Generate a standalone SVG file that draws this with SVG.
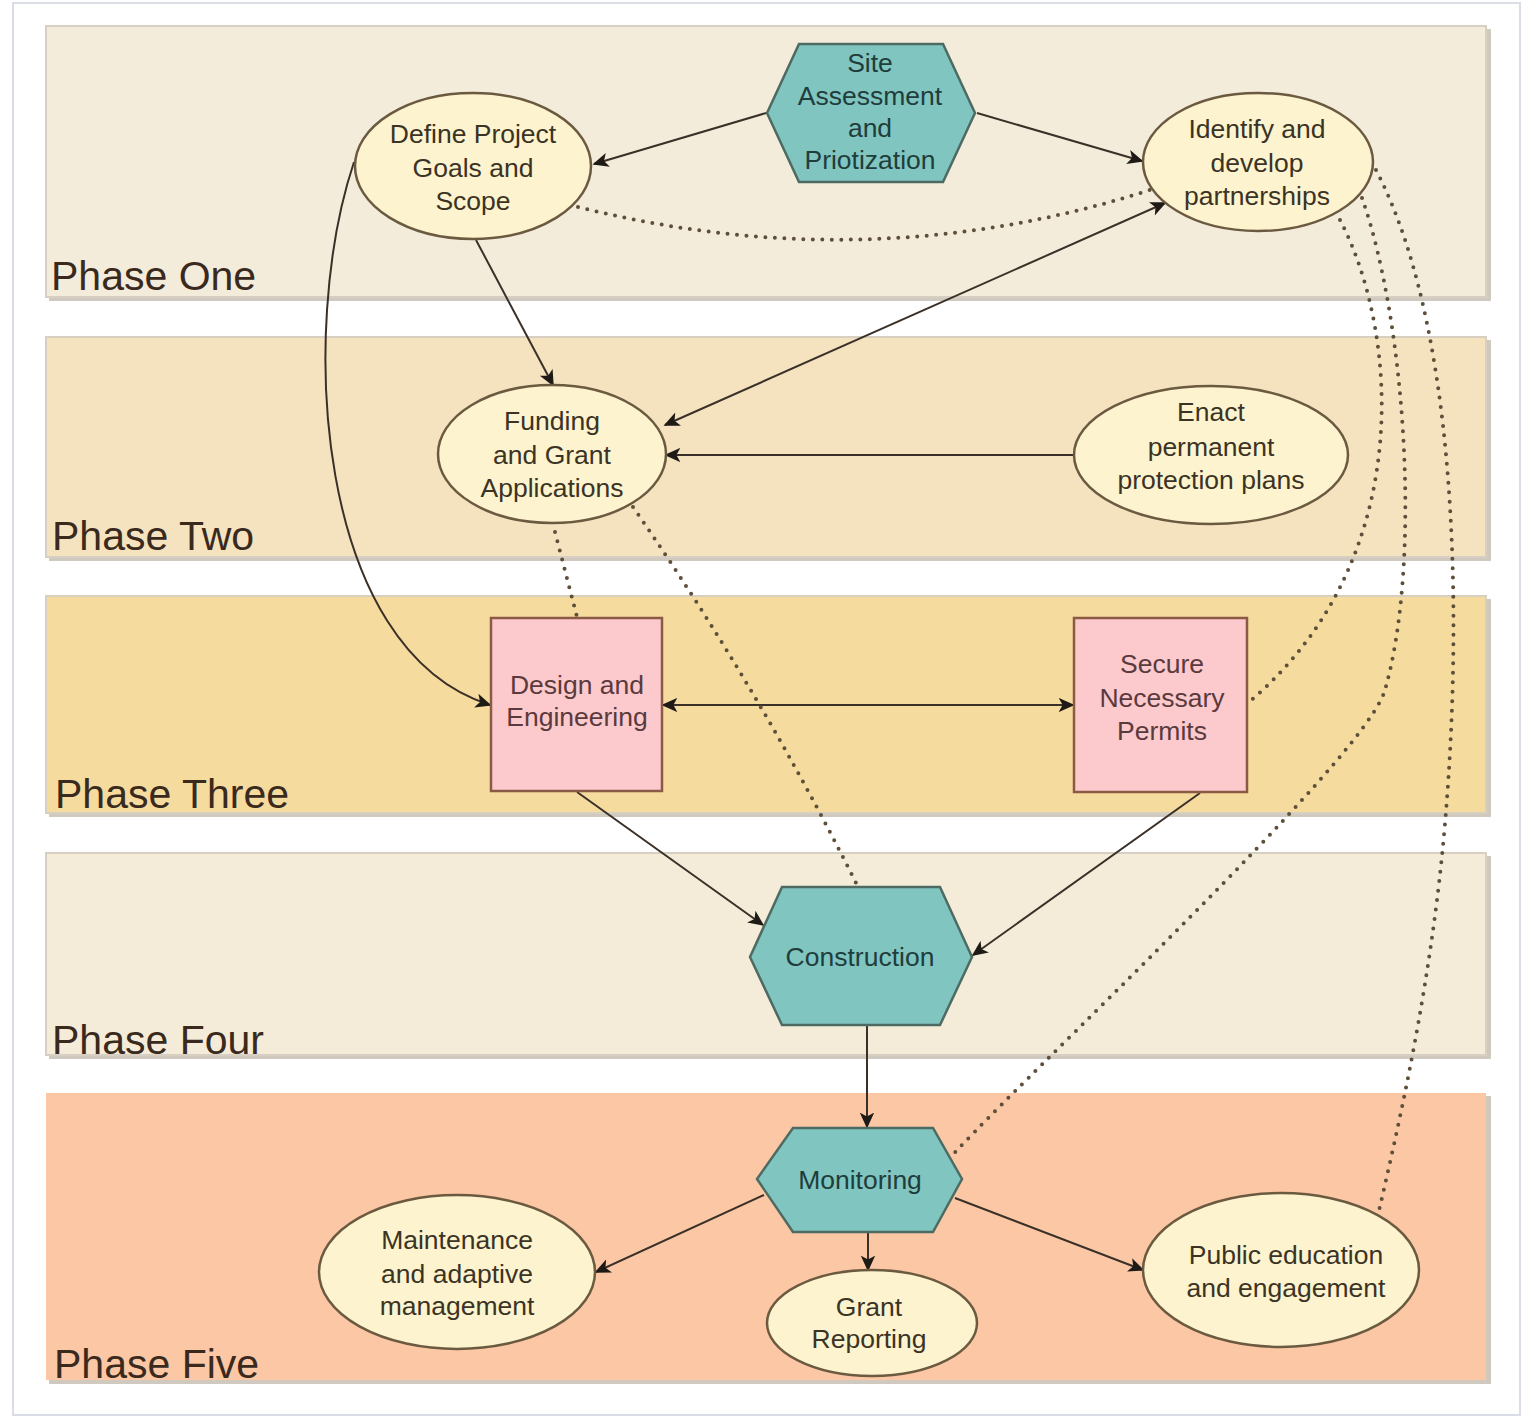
<svg xmlns="http://www.w3.org/2000/svg" width="1524" height="1417" viewBox="0 0 1524 1417">
<defs>
<style>
.lane-sh{fill:#cfc9bf}
.lane{stroke:#d6cfc2;stroke-width:2}
.phase{font-family:"Liberation Sans",Arial,sans-serif;font-size:41px;fill:#3a2a1e}
.ell{fill:#fdf3cf;stroke:#6b5a40;stroke-width:2.5}
.hex{fill:#80c5c0;stroke:#4d6b63;stroke-width:2.5}
.box{fill:#fcc9cd;stroke:#8b5a45;stroke-width:2.5}
.t{font-family:"Liberation Sans",Arial,sans-serif;font-size:26.5px;text-anchor:middle;fill:#3b3324}
.th{font-family:"Liberation Sans",Arial,sans-serif;font-size:26.5px;text-anchor:middle;fill:#1f3d3b}
.tb{font-family:"Liberation Sans",Arial,sans-serif;font-size:26.5px;text-anchor:middle;fill:#5a3a3c}
.c{fill:none;stroke:#3a3028;stroke-width:2}
.d{fill:none;stroke:#5e4f3a;stroke-width:4;stroke-linecap:round;stroke-dasharray:0 9.5}
</style>
<marker id="a" viewBox="0 0 10 10" refX="9" refY="5" markerWidth="16" markerHeight="16" orient="auto-start-reverse" markerUnits="userSpaceOnUse">
<path d="M0,0.5 L10,5 L0,9.5 L2.5,5 Z" fill="#1e1a16"/>
</marker>
</defs>
<rect x="0" y="0" width="1524" height="1417" fill="#ffffff"/>
<rect x="13" y="3" width="1507" height="1412" fill="#ffffff" stroke="#dadde6" stroke-width="2"/>

<g id="lanes">
<rect class="lane-sh" x="49" y="29" width="1442" height="272"/>
<rect class="lane" x="46" y="26" width="1440" height="271" fill="#f4ecdb"/>
<text class="phase" x="51" y="290">Phase One</text>
<rect class="lane-sh" x="49" y="340" width="1442" height="221"/>
<rect class="lane" x="46" y="337" width="1440" height="220" fill="#f5e3c0"/>
<text class="phase" x="52" y="550">Phase Two</text>
<rect class="lane-sh" x="49" y="599" width="1442" height="218"/>
<rect class="lane" x="46" y="596" width="1440" height="217" fill="#f6db9f"/>
<text class="phase" x="55" y="808">Phase Three</text>
<rect class="lane-sh" x="49" y="856" width="1442" height="203"/>
<rect class="lane" x="46" y="853" width="1440" height="202" fill="#f4ecd8"/>
<text class="phase" x="52" y="1054">Phase Four</text>
<rect class="lane-sh" x="49" y="1096" width="1442" height="288"/>
<rect x="46" y="1093" width="1440" height="287" fill="#fbc7a4"/>
<text class="phase" x="54" y="1378">Phase Five</text>
</g>

<g id="connectors">
<path class="c" d="M766 113 L594 164" marker-end="url(#a)"/>
<path class="c" d="M977 113 L1142 161" marker-end="url(#a)"/>
<path class="c" d="M476 240 L553 385" marker-end="url(#a)"/>
<path class="c" d="M354 162 C298 330 315 650 490 705" marker-end="url(#a)"/>
<path class="c" d="M665 425 L1165 203" marker-start="url(#a)" marker-end="url(#a)"/>
<path class="c" d="M1074 455 L666 455" marker-end="url(#a)"/>
<path class="c" d="M663 705 L1073 705" marker-start="url(#a)" marker-end="url(#a)"/>
<path class="c" d="M577 792 L763 925" marker-end="url(#a)"/>
<path class="c" d="M1200 793 L973 955" marker-end="url(#a)"/>
<path class="c" d="M867 1025 L867 1127" marker-end="url(#a)"/>
<path class="c" d="M764 1195 L596 1272" marker-end="url(#a)"/>
<path class="c" d="M868 1232 L868 1270" marker-end="url(#a)"/>
<path class="c" d="M955 1198 L1143 1270" marker-end="url(#a)"/>
<path class="d" d="M578 207 Q870 280 1150 190"/>
<path class="d" d="M555 532 L577 617"/>
<path class="d" d="M633 507 Q760 690 858 887"/>
<path class="d" d="M1340 220 C1398 330 1418 560 1248 703"/>
<path class="d" d="M1362 198 C1405 320 1422 560 1385 690 C1365 760 1020 1080 948 1160"/>
<path class="d" d="M1376 170 C1470 350 1462 700 1437 900 C1422 1020 1400 1120 1378 1215"/>
</g>

<g id="site-assessment">
<polygon class="hex" points="767,113 799,44 943,44 975,113 943,182 799,182"/>
<text class="th" x="870" y="72">Site</text>
<text class="th" x="870" y="105">Assessment</text>
<text class="th" x="870" y="137">and</text>
<text class="th" x="870" y="169">Priotization</text>
</g>
<g id="define-goals">
<ellipse class="ell" cx="473" cy="166" rx="118" ry="73"/>
<text class="t" x="473" y="143">Define Project</text>
<text class="t" x="473" y="177">Goals and</text>
<text class="t" x="473" y="210">Scope</text>
</g>
<g id="partnerships">
<ellipse class="ell" cx="1258" cy="162" rx="115" ry="69"/>
<text class="t" x="1257" y="138">Identify and</text>
<text class="t" x="1257" y="172">develop</text>
<text class="t" x="1257" y="205">partnerships</text>
</g>
<g id="funding">
<ellipse class="ell" cx="552" cy="454" rx="114" ry="69"/>
<text class="t" x="552" y="430">Funding</text>
<text class="t" x="552" y="464">and Grant</text>
<text class="t" x="552" y="497">Applications</text>
</g>
<g id="enact">
<ellipse class="ell" cx="1211" cy="455" rx="137" ry="69"/>
<text class="t" x="1211" y="421">Enact</text>
<text class="t" x="1211" y="456">permanent</text>
<text class="t" x="1211" y="489">protection plans</text>
</g>
<g id="design">
<rect class="box" x="491" y="618" width="171" height="173"/>
<text class="tb" x="577" y="694">Design and</text>
<text class="tb" x="577" y="726">Engineering</text>
</g>
<g id="permits">
<rect class="box" x="1074" y="618" width="173" height="174"/>
<text class="tb" x="1162" y="673">Secure</text>
<text class="tb" x="1162" y="707">Necessary</text>
<text class="tb" x="1162" y="740">Permits</text>
</g>
<g id="construction">
<polygon class="hex" points="750,957 782,887 940,887 972,957 940,1025 782,1025"/>
<text class="th" x="860" y="966">Construction</text>
</g>
<g id="monitoring">
<polygon class="hex" points="757,1179 793,1128 933,1128 962,1179 933,1232 793,1232"/>
<text class="th" x="860" y="1189">Monitoring</text>
</g>
<g id="maintenance">
<ellipse class="ell" cx="457" cy="1272" rx="138" ry="77"/>
<text class="t" x="457" y="1249">Maintenance</text>
<text class="t" x="457" y="1283">and adaptive</text>
<text class="t" x="457" y="1315">management</text>
</g>
<g id="grant-reporting">
<ellipse class="ell" cx="872" cy="1323" rx="105" ry="53"/>
<text class="t" x="869" y="1316">Grant</text>
<text class="t" x="869" y="1348">Reporting</text>
</g>
<g id="public-education">
<ellipse class="ell" cx="1281" cy="1270" rx="138" ry="77"/>
<text class="t" x="1286" y="1264">Public education</text>
<text class="t" x="1286" y="1297">and engagement</text>
</g>
</svg>
